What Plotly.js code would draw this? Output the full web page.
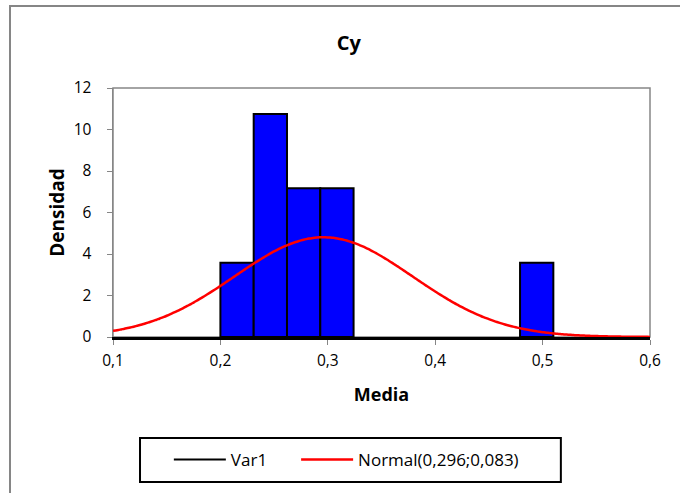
<!DOCTYPE html>
<html>
<head>
<meta charset="utf-8">
<script src="https://cdn.plot.ly/plotly-3.0.1.min.js"></script>
<style>
  html, body { margin: 0; padding: 0; background: #fff; }
  #chart { width: 680px; height: 493px; }
</style>
</head>
<body>
<div id="chart"></div>
<script>
// Histogram of the sample means (density scale)
const binStarts = [0.200, 0.231, 0.262, 0.293, 0.479];
const binWidth = 0.031;
const densities = [3.58, 10.75, 7.17, 7.17, 3.58];

// Fitted normal distribution parameters
const normMean = 0.296;
const normSd = 0.083;
const curveRange = [0.1, 0.6];

const xTicks = [0.1, 0.2, 0.3, 0.4, 0.5, 0.6];
const yTicks = [0, 2, 4, 6, 8, 10, 12];

// Normal density evaluated along the x range
const curveX = [];
const curveY = [];
const nSteps = 200;
for (let i = 0; i <= nSteps; i++) {
  const x = curveRange[0] + (curveRange[1] - curveRange[0]) * i / nSteps;
  const z = (x - normMean) / normSd;
  curveX.push(x);
  curveY.push(Math.exp(-0.5 * z * z) / (normSd * Math.sqrt(2 * Math.PI)));
}

const FONT = '"Open Sans", Lato, sans-serif';

const traces = [
  {
    type: 'bar',
    x: binStarts,
    y: densities,
    width: binStarts.map(() => binWidth),
    offset: 0,
    marker: { color: '#0000FF', line: { color: '#000000', width: 2 } },
    showlegend: false,
    hoverinfo: 'x+y'
  },
  {
    type: 'scatter',
    mode: 'lines',
    x: [null],
    y: [null],
    name: 'Var1',
    legend: 'legend',
    line: { color: '#000000', width: 2 }
  },
  {
    type: 'scatter',
    mode: 'lines',
    x: curveX,
    y: curveY,
    name: 'Normal(0,296;0,083)',
    legend: 'legend2',
    line: { color: '#FF0000', width: 2.5, shape: 'spline' }
  }
];

const legendBase = {
  orientation: 'h',
  xanchor: 'left',
  y: -0.494, yanchor: 'middle',
  borderwidth: 0,
  bgcolor: 'rgba(0,0,0,0)',
  font: { family: FONT, size: 17 },
  itemwidth: 52
};

const layout = {
  width: 680,
  height: 493,
  margin: { l: 113, r: 30, t: 88, b: 156 },
  paper_bgcolor: '#ffffff',
  plot_bgcolor: '#ffffff',
  separators: ', ',
  font: { family: FONT, size: 15.5, color: '#000000' },
  bargap: 0,
  title: {
    text: '<b>Cy</b>',
    font: { family: FONT, size: 20, color: '#000000' },
    x: 0.513, xanchor: 'center', xref: 'container',
    y: 0.913, yanchor: 'middle', yref: 'container'
  },
  xaxis: {
    range: curveRange,
    tickvals: xTicks,
    tickformat: '.1f',
    ticks: 'outside',
    ticklen: 5,
    tickcolor: '#868686',
    ticklabelstandoff: 3,
    showline: true,
    linecolor: '#000000',
    linewidth: 2.5,
    showgrid: false,
    zeroline: false,
    tickfont: { family: FONT, size: 15.5 },
    title: { text: '<b>Media</b>', font: { family: FONT, size: 18 }, standoff: 19 }
  },
  yaxis: {
    range: [0, 12],
    tickvals: yTicks,
    ticks: 'outside',
    ticklen: 5,
    tickcolor: '#868686',
    ticklabelstandoff: 12,
    showline: true,
    linecolor: '#868686',
    linewidth: 1.5,
    showgrid: false,
    zeroline: false,
    tickfont: { family: FONT, size: 15.5 },
    title: { text: '<b>Densidad</b>', font: { family: FONT, size: 19 }, standoff: 4 }
  },
  shapes: [
    // plot area frame
    { type: 'rect', xref: 'paper', yref: 'paper', x0: 0, x1: 1, y0: 0, y1: 1,
      line: { color: '#868686', width: 1.5 }, layer: 'below' },
    // chart area frame
    { type: 'rect', xref: 'paper', yref: 'paper', x0: -0.1918, x1: 2, y0: -2, y1: 1.3295,
      line: { color: '#868686', width: 2 }, layer: 'below' },
    // legend frame
    { type: 'rect', xref: 'paper', yref: 'paper', x0: 0.0503, x1: 0.834, y0: -0.5823, y1: -0.4056,
      line: { color: '#000000', width: 2 }, layer: 'below' }
  ],
  legend: Object.assign({}, legendBase, { x: 0.104 }),
  legend2: Object.assign({}, legendBase, { x: 0.341 }),
  showlegend: true
};

Plotly.newPlot('chart', traces, layout, { displayModeBar: false, staticPlot: true });
</script>
</body>
</html>
